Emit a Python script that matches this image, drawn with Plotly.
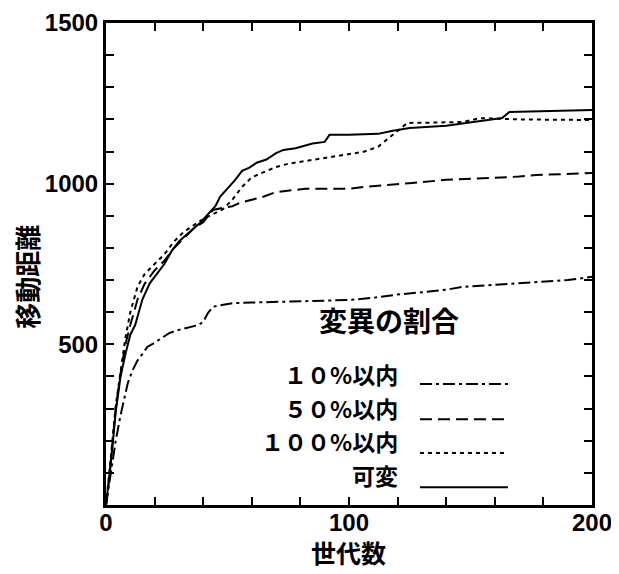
import plotly.graph_objects as go

# ---- data ----
gen_var = [0, 1, 2, 4, 6, 8, 10, 12, 15, 18, 21, 24, 27, 30, 33, 36, 39, 42, 45, 47, 50, 53, 56, 59, 62, 66, 70, 73, 78, 85, 90, 92, 100, 112, 118, 125, 140, 155, 163, 166, 180, 200]
dist_var = [0, 60, 130, 290, 400, 470, 530, 560, 640, 690, 720, 750, 790, 820, 840, 860, 880, 905, 930, 960, 985, 1010, 1040, 1050, 1065, 1075, 1095, 1105, 1110, 1125, 1130, 1152, 1152, 1155, 1165, 1173, 1180, 1195, 1204, 1223, 1225, 1229]

gen_100 = [0, 1, 2, 4, 6, 8, 10, 13, 16, 20, 24, 28, 32, 36, 40, 44, 48, 52, 56, 60, 65, 70, 75, 80, 90, 100, 106, 112, 117, 120, 124, 135, 147, 154, 170, 200]
dist_100 = [0, 70, 150, 310, 420, 520, 600, 680, 720, 750, 780, 820, 850, 870, 890, 905, 920, 950, 990, 1020, 1035, 1052, 1062, 1068, 1080, 1092, 1099, 1115, 1145, 1165, 1189, 1190, 1192, 1204, 1200, 1198]

gen_50 = [0, 1, 2, 4, 6, 8, 10, 13, 16, 20, 24, 28, 32, 36, 40, 44, 48, 52, 55, 60, 65, 70, 76, 82, 90, 100, 106, 115, 126, 140, 150, 161, 170, 177, 190, 200]
dist_50 = [0, 60, 140, 300, 410, 500, 560, 640, 690, 730, 760, 800, 830, 860, 880, 918, 925, 930, 940, 950, 960, 974, 980, 984, 984, 984, 990, 995, 1002, 1012, 1015, 1018, 1022, 1027, 1030, 1033]

gen_10 = [0, 1, 2, 4, 6, 7, 9, 11, 13, 15, 17, 20, 23, 26, 30, 33, 35, 38, 40, 42, 44, 48, 52, 60, 70, 80, 90, 100, 110, 120, 130, 140, 147, 160, 175, 190, 200]
dist_10 = [0, 50, 100, 200, 280, 317, 380, 420, 450, 470, 492, 505, 520, 535, 545, 550, 554, 560, 570, 598, 617, 622, 628, 630, 632, 634, 636, 638, 645, 655, 662, 670, 679, 685, 691, 700, 710]

series_names = ["１０%以内", "５０%以内", "１００%以内", "可変"]
legend_title = "変異の割合"
x_title = "世代数"
y_title = "移動距離"
x_ticks = [0, 100, 200]
y_ticks = [0, 500, 1000, 1500]
y_ticktext = ["", "500", "1000", "1500"]

dashes = ["12px,4px,3px,4px", "12px,6px", "4px,4px", "solid"]
series = [(gen_10, dist_10), (gen_50, dist_50), (gen_100, dist_100), (gen_var, dist_var)]

CJK = "Noto Sans CJK JP"
NUM = "Liberation Sans, Arial"

fig = go.Figure()
for (gx, gy), name, d in zip(series, series_names, dashes):
    fig.add_trace(go.Scatter(x=gx, y=gy, mode="lines", name=name,
                             line=dict(color="black", width=2, dash=d),
                             showlegend=False))

axis_common = dict(showline=True, linecolor="black", linewidth=3, mirror="ticks",
                   ticks="inside", ticklen=8, tickwidth=2, tickcolor="black",
                   showgrid=False, zeroline=False, automargin=False,
                   tickfont=dict(family=NUM, size=24, color="black", weight="bold"))

fig.update_xaxes(range=[0, 200], tickvals=x_ticks, ticklabelstandoff=-6,
                 minor=dict(dtick=20, ticks="inside", ticklen=8, tickwidth=2, tickcolor="black"),
                 **axis_common)
fig.update_yaxes(range=[0, 1500], tickvals=y_ticks, ticktext=y_ticktext,
                 minor=dict(dtick=100, ticks="inside", ticklen=8, tickwidth=2, tickcolor="black"),
                 **axis_common)

annotations = [
    dict(text=x_title, x=0.498, y=-0.0985, xref="paper", yref="paper", showarrow=False,
         font=dict(family=CJK, size=25, color="black", weight="bold"), xanchor="center", yanchor="middle"),
    dict(text=y_title, x=-0.165, y=0.473, xref="paper", yref="paper", showarrow=False, textangle=-90,
         font=dict(family=CJK, size=26, color="black", weight="bold"), xanchor="center", yanchor="middle"),
    dict(text=legend_title, x=0.582, y=0.384, xref="paper", yref="paper", showarrow=False,
         font=dict(family=CJK, size=28, color="black", weight="bold"), xanchor="center", yanchor="middle"),
]
row_text_y = [0.272, 0.202, 0.132, 0.062]
row_line_y = [0.251, 0.178, 0.108, 0.037]
shapes = []
for name, ty, ly, d in zip(series_names, row_text_y, row_line_y, dashes):
    annotations.append(dict(text=name, x=0.605, y=ty, xref="paper", yref="paper", showarrow=False,
                            font=dict(family=CJK, size=23, color="black", weight="bold"),
                            xanchor="right", yanchor="middle"))
    shapes.append(dict(type="line", xref="paper", yref="paper", x0=0.646, x1=0.827, y0=ly, y1=ly,
                       line=dict(color="black", width=2, dash=d)))

# page body has an 8px margin, so the figure is placed at (8, 8)
fig.update_layout(width=611, height=566, margin=dict(l=98, r=27, t=15, b=69),
                  plot_bgcolor="white", paper_bgcolor="white",
                  annotations=annotations, shapes=shapes)

fig.write_html("out.html")
